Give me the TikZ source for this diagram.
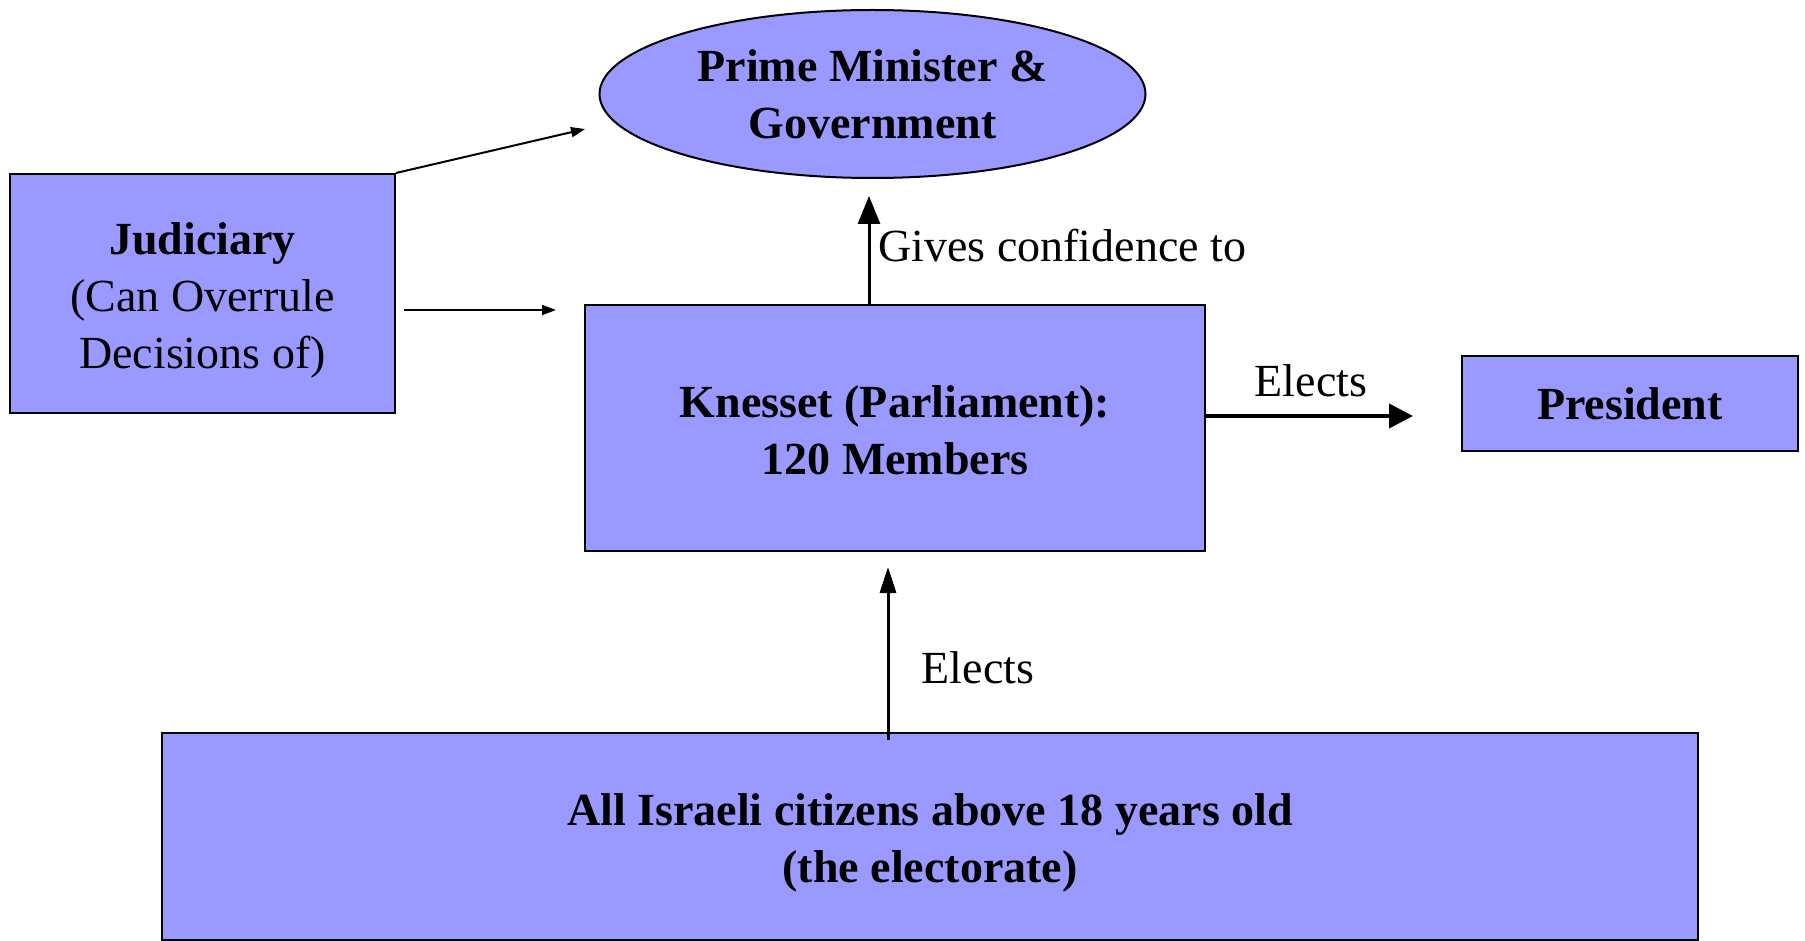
\documentclass[tikz,border=0pt]{standalone}
\usepackage{fontspec}
\setmainfont{Liberation Serif}
\usetikzlibrary{arrows.meta,shapes.geometric}
\definecolor{boxfill}{HTML}{9999FF}
\begin{document}
\begin{tikzpicture}[x=0.5pt,y=-0.5pt,
  box/.style={draw=black, line width=1pt, fill=boxfill, inner sep=0pt, align=center,
    font=\fontsize{23}{28.5}\selectfont\bfseries},
  lbl/.style={inner sep=0pt, font=\fontsize{23}{28.5}\selectfont},
  thinarrow/.style={line width=1pt, -{Triangle[length=7pt,width=5pt]}},
  midarrow/.style={line width=1.5pt, -{Triangle[length=14pt,width=11pt]}},
  thickarrow/.style={line width=2pt, -{Triangle[length=12pt,width=12pt]}},
  uparrow/.style={line width=1.5pt, -{Triangle[length=13pt,width=8pt]}}]
\useasboundingbox (0,0) rectangle (1805,941);

\node[box, ellipse, minimum width=273pt, minimum height=84pt] (pm) at (872.5,94)
  {Prime Minister \&\\Government};
\node[box, rectangle, minimum width=192.5pt, minimum height=119.5pt,
  font=\fontsize{23}{28.5}\selectfont] (jud) at (202.5,293.5)
  {\rule{0pt}{22.5pt}\textbf{Judiciary}\\(Can Overrule\\Decisions of)};
\node[box, rectangle, minimum width=310pt, minimum height=123pt] (kn) at (895,428)
  {\rule{0pt}{18pt}Knesset (Parliament):\\120 Members};
\node[box, rectangle, minimum width=168pt, minimum height=47.5pt] (pres) at (1630,403.5)
  {President};
\node[box, rectangle, minimum width=768pt, minimum height=103.5pt] (all) at (930,836.5)
  {\rule{0pt}{22.5pt}All Israeli citizens above 18 years old\\(the electorate)};

\coordinate (jpm) at (585,129);
\coordinate (jk1) at (404,310);
\coordinate (jk2) at (556,310);
\coordinate (kpm) at (869,196);
\coordinate (kpres) at (1413,416);
\coordinate (elow) at (888,740);
\coordinate (eup) at (888,567);

\draw[thinarrow] (jud.north east) -- (jpm);
\draw[thinarrow] (jk1) -- (jk2);
\draw[midarrow] (kpm |- kn.north) -- (kpm);
\draw[thickarrow] (kn.east |- kpres) -- (kpres);
\draw[uparrow] (elow) -- (eup);

\node[lbl, anchor=west] (gc) at (878,246) {Gives confidence to};
\node[lbl] (el1) at (1311,381) {Elects};
\node[lbl] (el2) at (978,668) {Elects};
\end{tikzpicture}
\end{document}
